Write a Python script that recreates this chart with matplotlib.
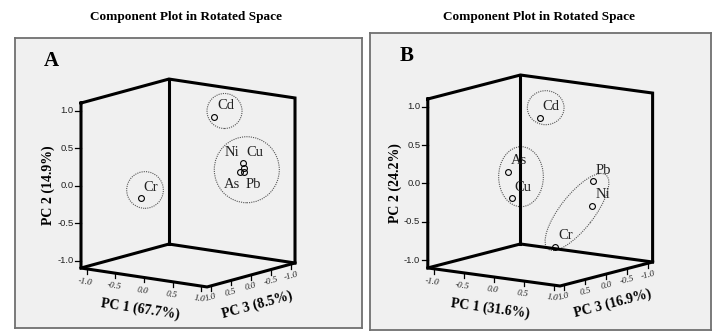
import numpy as np
import matplotlib
matplotlib.use("Agg")
import matplotlib.pyplot as plt
from matplotlib.patches import Ellipse

# ---------------- data ----------------
elements = ["Cd", "Cr", "Ni", "Cu", "As", "Pb"]

# Panel A loadings (PC1, PC2, PC3)
a_pc1 = [0.20, -0.19, 0.90, 0.92, 0.88, 0.93]
a_pc2 = [0.85, -0.09, 0.36, 0.30, 0.24, 0.24]
a_pc3 = [-0.36, 0.90, -0.08, -0.08, -0.05, -0.06]
a_var = [67.7, 14.9, 8.5]

# Panel B loadings (PC1, PC2, PC3)
b_pc1 = [0.10, 0.40, 0.85, 0.12, 0.03, 0.85]
b_pc2 = [0.85, -0.79, -0.24, -0.10, 0.23, 0.08]
b_pc3 = [0.15, 0.22, -0.02, 0.85, 0.80, -0.03]
b_var = [31.6, 24.2, 16.9]

tick_vals = [-1.0, -0.5, 0.0, 0.5, 1.0]
tick_labels = ["-1.0", "-0.5", "0.0", "0.5", "1.0"]
title_text = "Component Plot in Rotated Space"

# ---------------- style ----------------
W, H = 718, 336
SERIF = ["Liberation Serif", "DejaVu Serif"]
SANS = ["Liberation Sans", "DejaVu Sans"]
LIM = 1.1

fig = plt.figure(figsize=(W / 100, H / 100), dpi=100)
fig.patch.set_facecolor("white")


def make_proj(view):
    exx, exy, ezx, ezy = view

    def proj(x, y, z):
        x = np.asarray(x, float); y = np.asarray(y, float); z = np.asarray(z, float)
        return x * exx + z * ezx, y + x * exy + z * ezy
    return proj


def panel(frame, center, scale, view, pc1, pc2, pc3, var, letter,
          label_offsets, ellipses):
    left, top, right, bottom = frame
    cx, cy = center
    ax = fig.add_axes([left / W, 1 - bottom / H, (right - left) / W, (bottom - top) / H])
    ax.set_xlim((left - cx) / scale, (right - cx) / scale)
    ax.set_ylim((cy - bottom) / scale, (cy - top) / scale)
    ax.set_facecolor("#f0f0f0")
    for s in ax.spines.values():
        s.set_color("#707070")
        s.set_linewidth(1.3)
    ax.set_xticks([]); ax.set_yticks([])
    proj = make_proj(view)
    exx, exy, ezx, ezy = view

    def P(x, y, z):
        X, Y = proj(x, y, z)
        return float(X), float(Y)

    L = LIM
    lw = 2.2
    kw = dict(color="black", lw=lw, solid_joinstyle="miter", solid_capstyle="projecting")
    poly1 = [P(-L, L, L), P(-L, -L, L), P(L, -L, L), P(L, -L, -L), P(L, L, -L), P(-L, L, -L), P(-L, L, L)]
    poly2 = [P(-L, -L, L), P(-L, -L, -L), P(L, -L, -L)]
    poly3 = [P(-L, L, -L), P(-L, -L, -L)]
    for poly in (poly1, poly2, poly3):
        xs, ys = zip(*poly)
        ax.plot(xs, ys, **kw)

    tk = dict(color="black", lw=0.9)
    # PC2 ticks on left vertical edge
    for t, lab in zip(tick_vals, tick_labels):
        X, Y = P(-L, t, L)
        ax.plot([X - 6 / scale, X], [Y, Y], **tk)
        ax.annotate(lab, (X, Y), xytext=(-7.5, 0), textcoords="offset pixels",
                    ha="right", va="center", fontsize=6.8, family=SANS, color="#222222")
    ang1 = np.degrees(np.arctan2(exy, exx))
    ang3 = np.degrees(np.arctan2(-ezy, -ezx))
    # PC1 ticks along front-left bottom edge
    for t, lab in zip(tick_vals, tick_labels):
        X, Y = P(t, -L, L)
        ax.plot([X, X], [Y, Y - 5 / scale], **tk)
        ax.annotate(lab, (X, Y), xytext=(-1.5, -13), textcoords="offset pixels",
                    ha="center", va="center", fontsize=6.6, family=SERIF, style="italic",
                    rotation=ang1, color="#222222")
    # PC3 ticks along front-right bottom edge
    for t, lab in zip(tick_vals, tick_labels):
        X, Y = P(L, -L, t)
        ax.plot([X, X], [Y, Y - 5 / scale], **tk)
        ax.annotate(lab, (X, Y), xytext=(0, -12), textcoords="offset pixels",
                    ha="center", va="center", fontsize=6.6, family=SERIF, style="italic",
                    rotation=ang3, color="#222222")

    # axis titles
    lab_kw = dict(fontsize=10, fontweight="bold", family=SERIF, ha="center", va="center",
                  textcoords="offset pixels")
    ax.annotate(f"PC 1 ({var[0]}%)", P(0, -L, L), xytext=(-4, -32), rotation=ang1, **lab_kw)
    ax.annotate(f"PC 3 ({var[2]}%)", P(L, -L, 0), xytext=(6, -30), rotation=ang3, **lab_kw)
    ax.annotate(f"PC 2 ({var[1]}%)", P(-L, 0, L), xytext=(-33, 0), rotation=90, **lab_kw)

    # points and labels
    X, Y = proj(pc1, pc2, pc3)
    ax.plot(X, Y, "o", mfc="none", mec="black", ms=4.2, mew=0.8, ls="none")
    for el, xx, yy in zip(elements, X, Y):
        dx, dy = label_offsets.get(el, (11, 11))
        ax.annotate(el, (xx, yy), xytext=(dx, dy), textcoords="offset pixels",
                    ha="center", va="center", fontsize=10.5, family=SERIF, color="#222222")

    # dotted grouping ellipses (in projected units)
    for (ex_, ey_, w, h, a) in ellipses:
        ax.add_patch(Ellipse((ex_, ey_), w, h, angle=a, fill=False, ec="#555555",
                             lw=0.8, ls=(0, (1, 1))))

    ax.annotate(letter, (0, 1), xycoords="axes fraction", xytext=(37, -23),
                textcoords="offset pixels", ha="center", va="center",
                fontsize=15, fontweight="bold", family=SERIF)
    fig.text((cx - 1.5) / W, 1 - 17 / H, title_text, ha="center", va="center",
             fontsize=9.5, fontweight="bold", family=SERIF)
    return ax


viewA = (0.764, -0.1147, -0.533, -0.1453)
viewB = (0.7826, -0.1068, -0.548, -0.1419)

panel(frame=(14.7, 38, 361.5, 328), center=(188, 183), scale=75, view=viewA,
      pc1=a_pc1, pc2=a_pc2, pc3=a_pc3, var=a_var, letter="A",
      label_offsets={"Cd": (12, 12), "Cr": (10, 10), "Ni": (-10.4, 10),
                     "Cu": (11.3, 14.6), "As": (-8.6, -12), "Pb": (9.6, -12)},
      ellipses=[(0.487, 0.96, 0.467, 0.467, 0),
                (-0.573, -0.093, 0.489, 0.489, 0),
                (0.784, 0.177, 0.867, 0.88, 0)])

panel(frame=(370, 33.3, 710.5, 330), center=(540.2, 180.5), scale=76.8, view=viewB,
      pc1=b_pc1, pc2=b_pc2, pc3=b_pc3, var=b_var, letter="B",
      label_offsets={},
      ellipses=[(0.0716, 0.948, 0.478, 0.443, 0),
                (-0.25, 0.0495, 0.582, 0.781, 0),
                (0.479, -0.41, 1.224, 0.443, 52)])

fig.savefig("out.png", dpi=100)
